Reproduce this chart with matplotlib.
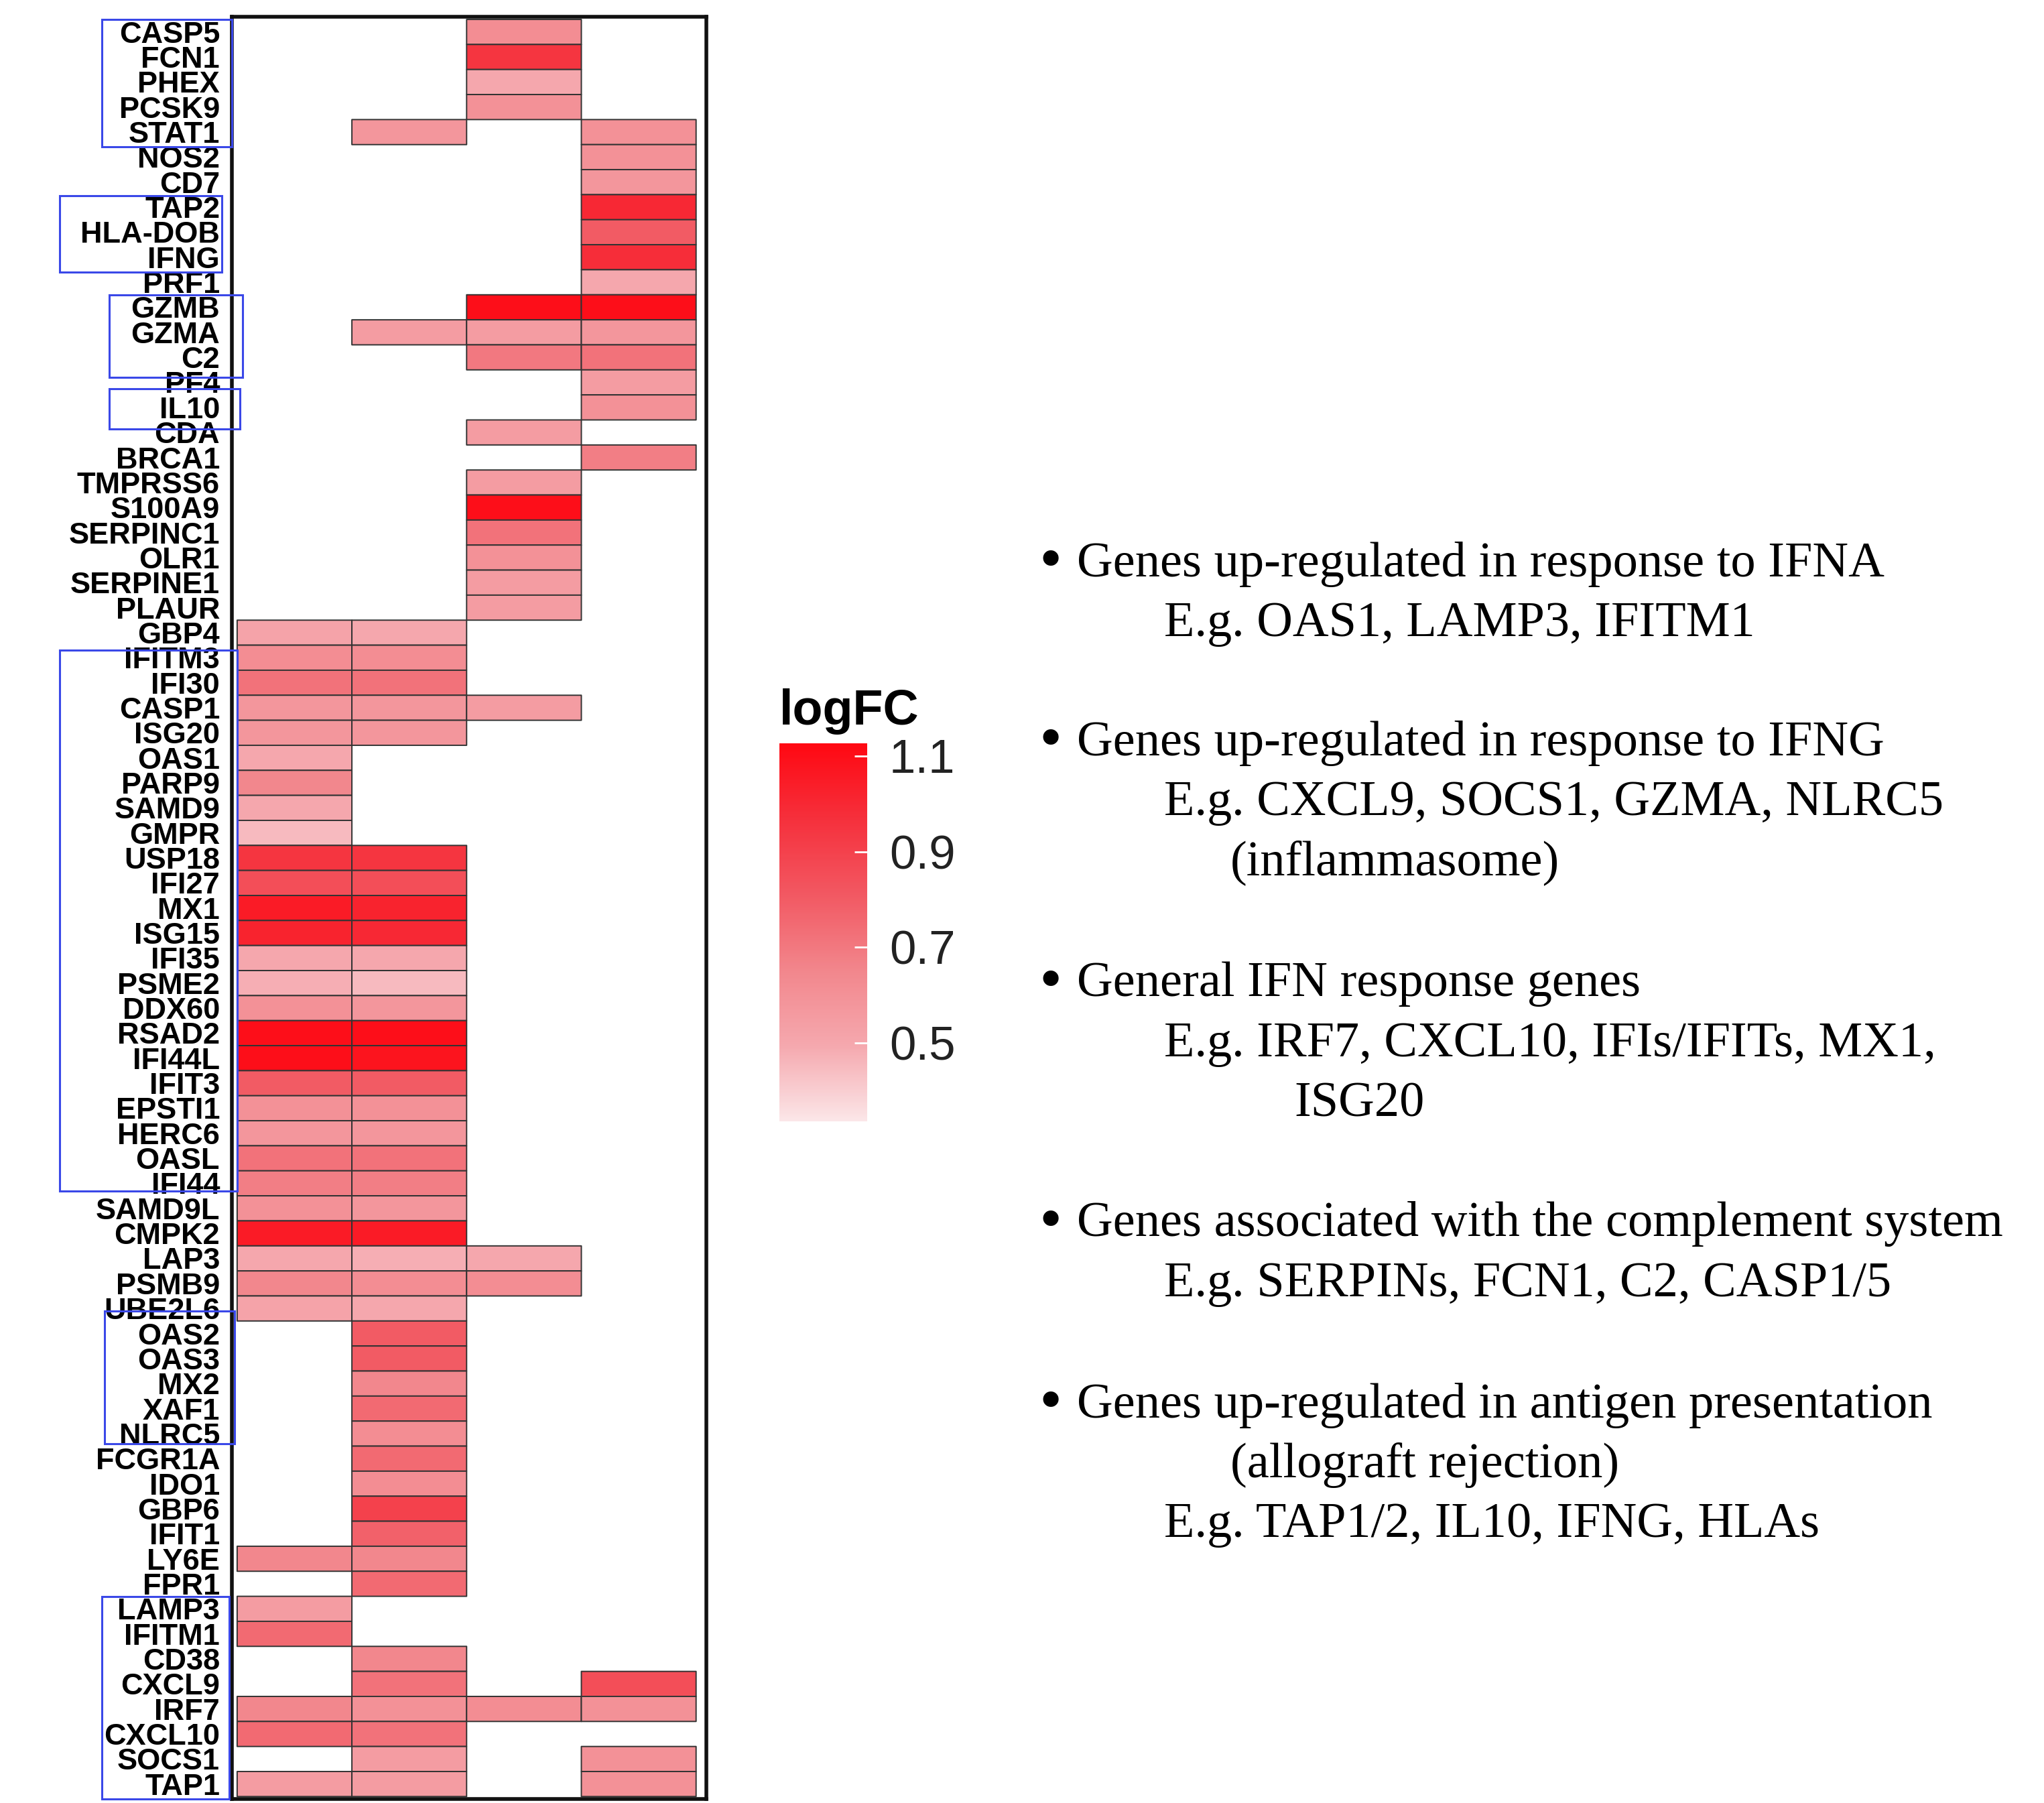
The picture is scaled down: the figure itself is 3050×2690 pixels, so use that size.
import numpy as np
import matplotlib
matplotlib.use("Agg")
import matplotlib.pyplot as plt
import matplotlib.transforms as mtransforms
from matplotlib.colors import LinearSegmentedColormap, Normalize
from matplotlib.patches import Rectangle
from matplotlib.cm import ScalarMappable

plt.rcParams['font.family'] = ['Liberation Sans', 'DejaVu Sans']

n = np.nan
genes = ['CASP5', 'FCN1', 'PHEX', 'PCSK9', 'STAT1', 'NOS2', 'CD7', 'TAP2', 'HLA-DOB', 'IFNG',
         'PRF1', 'GZMB', 'GZMA', 'C2', 'PF4', 'IL10', 'CDA', 'BRCA1', 'TMPRSS6', 'S100A9',
         'SERPINC1', 'OLR1', 'SERPINE1', 'PLAUR', 'GBP4', 'IFITM3', 'IFI30', 'CASP1', 'ISG20', 'OAS1',
         'PARP9', 'SAMD9', 'GMPR', 'USP18', 'IFI27', 'MX1', 'ISG15', 'IFI35', 'PSME2', 'DDX60',
         'RSAD2', 'IFI44L', 'IFIT3', 'EPSTI1', 'HERC6', 'OASL', 'IFI44', 'SAMD9L', 'CMPK2', 'LAP3',
         'PSMB9', 'UBE2L6', 'OAS2', 'OAS3', 'MX2', 'XAF1', 'NLRC5', 'FCGR1A', 'IDO1', 'GBP6',
         'IFIT1', 'LY6E', 'FPR1', 'LAMP3', 'IFITM1', 'CD38', 'CXCL9', 'IRF7', 'CXCL10', 'SOCS1',
         'TAP1']

# logFC per comparison (column), nan = not significant
col1 = [n, n, n, n, n, n, n, n, n, n,
        n, n, n, n, n, n, n, n, n, n,
        n, n, n, n, 0.52, 0.62, 0.72, 0.58, 0.58, 0.50,
        0.65, 0.50, 0.45, 0.95, 0.85, 1.05, 1.02, 0.50, 0.48, 0.60,
        1.10, 1.10, 0.80, 0.60, 0.58, 0.72, 0.68, 0.60, 1.05, 0.50,
        0.65, 0.52, n, n, n, n, n, n, n, n,
        n, 0.65, n, 0.55, 0.75, n, n, 0.65, 0.75, n,
        0.55]
col2 = [n, n, n, n, 0.58, n, n, n, n, n,
        n, n, 0.55, n, n, n, n, n, n, n,
        n, n, n, n, 0.50, 0.62, 0.72, 0.58, 0.58, n,
        n, n, n, 0.95, 0.85, 1.02, 1.00, 0.50, 0.45, 0.58,
        1.10, 1.08, 0.80, 0.60, 0.58, 0.72, 0.68, 0.58, 1.05, 0.48,
        0.62, 0.50, 0.80, 0.80, 0.65, 0.75, 0.62, 0.75, 0.62, 0.90,
        0.78, 0.65, 0.75, n, n, 0.65, 0.72, 0.60, 0.72, 0.55,
        0.55]
col3 = [0.62, 0.95, 0.50, 0.60, n, n, n, n, n, n,
        n, 1.10, 0.55, 0.70, n, n, 0.55, n, 0.55, 1.10,
        0.72, 0.60, 0.55, 0.55, n, n, n, 0.55, n, n,
        n, n, n, n, n, n, n, n, n, n,
        n, n, n, n, n, n, n, n, n, 0.50,
        0.62, n, n, n, n, n, n, n, n, n,
        n, n, n, n, n, n, n, 0.62, n, n,
        n]
col4 = [n, n, n, n, 0.60, 0.60, 0.58, 1.00, 0.80, 0.98,
        0.50, 1.10, 0.58, 0.72, 0.55, 0.60, n, 0.68, n, n,
        n, n, n, n, n, n, n, n, n, n,
        n, n, n, n, n, n, n, n, n, n,
        n, n, n, n, n, n, n, n, n, n,
        n, n, n, n, n, n, n, n, n, n,
        n, n, n, n, n, n, 0.85, 0.60, n, 0.60,
        0.60]

bullets = [
    ['Genes up-regulated in response to IFNA', 'E.g. OAS1, LAMP3, IFITM1'],
    ['Genes up-regulated in response to IFNG', 'E.g. CXCL9, SOCS1, GZMA, NLRC5', '(inflammasome)'],
    ['General IFN response genes', 'E.g. IRF7, CXCL10, IFIs/IFITs, MX1,', 'ISG20'],
    ['Genes associated with the complement system', 'E.g. SERPINs, FCN1, C2, CASP1/5'],
    ['Genes up-regulated in antigen presentation', '(allograft rejection)', 'E.g. TAP1/2, IL10, IFNG, HLAs'],
]

data = np.ma.masked_invalid(np.array([col1, col2, col3, col4]).T)
vmin, vmax = 0.336, 1.127
cmap = LinearSegmentedColormap.from_list(
    'logfc', ['#fbe6e8', '#f5a8ae', '#f2868c', '#f25862', '#f5303c', '#ff0812'])
norm = Normalize(vmin, vmax)

fig = plt.figure(figsize=(30.5, 26.9), dpi=100)
ax = fig.add_axes([0.1135, 0.0022, 0.2321, 0.9884])
ax.pcolor(np.arange(5), np.arange(len(genes) + 1), data, cmap=cmap, norm=norm,
          edgecolors='#333333', linewidth=1.4)
ax.set_xlim(-0.045, 4.09)
ax.set_ylim(len(genes) + 0.1, -0.1)
ax.set_xticks([])
ax.set_yticks(np.arange(len(genes)) + 0.5)
ax.set_yticklabels(genes, fontsize=32.5, fontweight='bold')
ax.tick_params(axis='y', length=0, pad=13)
for s in ax.spines.values():
    s.set_linewidth(4)
    s.set_color('#111111')

# blue boxes around label groups (x in px of the 1568-wide view, y in row units)
box_x = [(78, 178), (46, 170), (84, 186), (84, 184), (46, 182), (80, 180), (78, 176)]
box_y = [(0.0, 5.1), (7.05, 10.1), (11.0, 14.3), (14.75, 16.35), (25.2, 46.8), (51.6, 56.9), (63.0, 71.1)]
trans = mtransforms.blended_transform_factory(fig.transFigure, ax.transData)
for (x0, x1), (y0, y1) in zip(box_x, box_y):
    fx0, fx1 = x0 / 1568, x1 / 1568
    ax.add_patch(Rectangle((fx0, y0), fx1 - fx0, y1 - y0, transform=trans, fill=False,
                           edgecolor='#3a48e8', linewidth=2.2, clip_on=False, zorder=5))

# colour bar
cax = fig.add_axes([598 / 1568, 1 - 860 / 1383, 67 / 1568, 290 / 1383])
cb = fig.colorbar(ScalarMappable(norm=norm, cmap=cmap), cax=cax, ticks=[0.5, 0.7, 0.9, 1.1])
cb.outline.set_visible(False)
cb.ax.tick_params(length=14, width=2, color='white', direction='in', pad=24, labelsize=51,
                  labelcolor='#222222')
cb.ax.set_yticklabels(['0.5', '0.7', '0.9', '1.1'])
fig.text(598 / 1568, 1 - 546 / 1383, 'logFC', fontsize=53, fontweight='bold', ha='left', va='center')

# annotation text
y_starts = [433, 570, 755, 939, 1078]
serif = ['Liberation Serif', 'DejaVu Serif']
for lines, y0 in zip(bullets, y_starts):
    fig.text(797 / 1568, 1 - y0 / 1383, '\u2022', fontsize=70, family=serif, ha='left', va='center')
    fig.text(826 / 1568, 1 - y0 / 1383, lines[0], fontsize=53.6, family=serif, ha='left', va='center')
    for k, line in enumerate(lines[1:]):
        y = y0 + 46 * (k + 1)
        if line.startswith('('):
            x = 944
        elif line == 'ISG20':
            x = 993
        else:
            x = 893
        fig.text(x / 1568, 1 - y / 1383, line, fontsize=53.6, family=serif, ha='left', va='center')

fig.savefig('out.png', dpi=100, facecolor='white')
